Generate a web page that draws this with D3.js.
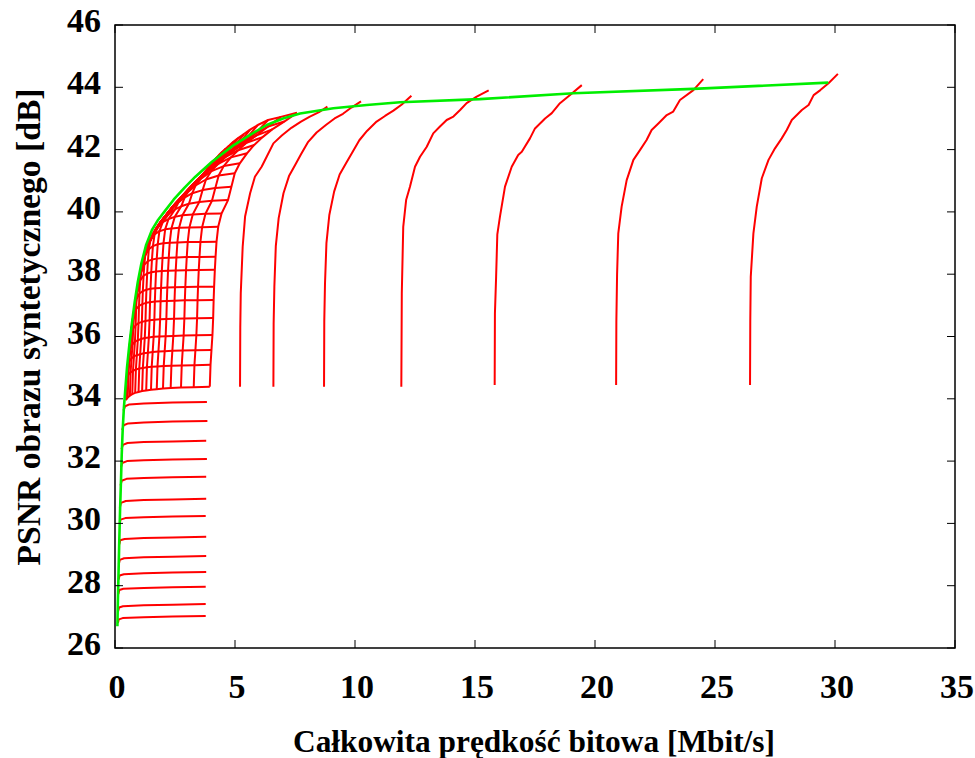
<!DOCTYPE html>
<html>
<head>
<meta charset="utf-8">
<script src="https://cdn.jsdelivr.net/npm/d3@7"></script>
<style>
  body { margin: 0; background: #fff; }
  svg { display: block; }
  text { font-family: "Liberation Serif", "Times New Roman", serif; font-weight: bold; fill: #000; }
</style>
</head>
<body>
<svg id="chart" width="975" height="758"></svg>
<script>
// Axis ticks
const xTicks = [0, 5, 10, 15, 20, 25, 30, 35];
const yTicks = [26, 28, 30, 32, 34, 36, 38, 40, 42, 44, 46];

// Upper envelope of all operating points [Mbit/s, dB]
const envelope = [
  [0.10, 26.7], [0.12, 27.5], [0.15, 28.5], [0.18, 29.5], [0.21, 30.4], [0.25, 31.4],
  [0.28, 32.2], [0.32, 33.0], [0.37, 33.7], [0.43, 34.3], [0.50, 35.0], [0.60, 35.75],
  [0.70, 36.4], [0.82, 37.1], [0.95, 37.75], [1.10, 38.35], [1.30, 38.95], [1.54, 39.42],
  [1.80, 39.75], [2.10, 40.05], [2.45, 40.4], [2.90, 40.78], [3.35, 41.13], [4.04, 41.61],
  [4.90, 42.12], [5.80, 42.55], [6.32, 42.79], [7.00, 43.0], [7.71, 43.16], [9.10, 43.33],
  [10.49, 43.43], [11.88, 43.52], [15.20, 43.62], [19.10, 43.81], [24.10, 43.95], [29.72, 44.15]
];

// Low-quality texture curves (depth rate swept)
const lowerCurves = [
  [[0.35, 33.62], [0.42, 33.76], [0.60, 33.82], [1.2, 33.85], [2.4, 33.88], [3.83, 33.90]],
  [[0.30, 33.00], [0.36, 33.15], [0.55, 33.21], [1.2, 33.24], [2.4, 33.27], [3.85, 33.29]],
  [[0.27, 32.38], [0.33, 32.52], [0.52, 32.58], [1.2, 32.61], [2.4, 32.63], [3.80, 32.65]],
  [[0.25, 31.80], [0.30, 31.94], [0.50, 32.00], [1.2, 32.03], [2.4, 32.05], [3.83, 32.07]],
  [[0.23, 31.22], [0.28, 31.37], [0.48, 31.43], [1.2, 31.46], [2.4, 31.48], [3.80, 31.50]],
  [[0.20, 30.50], [0.25, 30.66], [0.45, 30.72], [1.2, 30.75], [2.4, 30.77], [3.80, 30.79]],
  [[0.19, 29.98], [0.23, 30.12], [0.43, 30.17], [1.2, 30.20], [2.4, 30.22], [3.78, 30.24]],
  [[0.18, 29.33], [0.22, 29.46], [0.40, 29.50], [1.2, 29.53], [2.4, 29.55], [3.80, 29.57]],
  [[0.16, 28.70], [0.20, 28.83], [0.38, 28.88], [1.2, 28.91], [2.4, 28.93], [3.80, 28.95]],
  [[0.15, 28.20], [0.19, 28.33], [0.37, 28.37], [1.2, 28.40], [2.4, 28.42], [3.80, 28.44]],
  [[0.14, 27.73], [0.18, 27.86], [0.35, 27.90], [1.2, 27.93], [2.4, 27.95], [3.78, 27.97]],
  [[0.13, 27.18], [0.17, 27.30], [0.33, 27.34], [1.2, 27.37], [2.4, 27.39], [3.78, 27.41]],
  [[0.12, 26.80], [0.16, 26.92], [0.32, 26.96], [1.2, 26.99], [2.4, 27.01], [3.78, 27.03]]
];

// Dense grid: texture rate per column, depth rate per row, PSNR per row/column
const gridTexture = [0.45, 0.53, 0.62, 0.72, 0.84, 0.98, 1.13, 1.30, 1.50, 1.74, 2.00, 2.32, 2.75, 3.28, 3.95];
const gridDepth = [0, 0.03, 0.07, 0.11, 0.14, 0.16, 0.18, 0.21, 0.24, 0.28, 0.35, 0.49, 0.76, 0.90, 1.04, 1.25, 1.55, 1.85, 2.20, 2.60, 3.10, 3.63];
const gridPsnr = [
  [33.96, 34.04, 34.10, 34.15, 34.19, 34.22, 34.25, 34.27, 34.29, 34.31, 34.33, 34.35, 34.36, 34.37, 34.39],
  [34.50, 34.78, 34.85, 34.90, 34.94, 34.97, 34.99, 35.01, 35.03, 35.04, 35.05, 35.06, 35.07, 35.08, 35.09],
  [34.90, 35.20, 35.30, 35.36, 35.40, 35.43, 35.46, 35.48, 35.50, 35.52, 35.53, 35.54, 35.55, 35.56, 35.57],
  [35.25, 35.60, 35.75, 35.83, 35.88, 35.92, 35.95, 35.97, 35.99, 36.00, 36.01, 36.02, 36.03, 36.04, 36.05],
  [35.50, 35.95, 36.25, 36.36, 36.43, 36.47, 36.50, 36.52, 36.54, 36.55, 36.56, 36.57, 36.58, 36.585, 36.59],
  [35.70, 36.15, 36.60, 36.88, 36.98, 37.04, 37.08, 37.10, 37.12, 37.13, 37.14, 37.15, 37.16, 37.165, 37.17],
  [35.85, 36.30, 36.80, 37.20, 37.38, 37.46, 37.50, 37.53, 37.55, 37.56, 37.57, 37.58, 37.59, 37.595, 37.60],
  [36.05, 36.50, 36.98, 37.45, 37.80, 37.95, 38.02, 38.06, 38.09, 38.10, 38.11, 38.12, 38.13, 38.135, 38.14],
  [36.25, 36.65, 37.15, 37.62, 38.05, 38.30, 38.42, 38.47, 38.50, 38.52, 38.53, 38.54, 38.55, 38.555, 38.56],
  [36.50, 36.90, 37.35, 37.80, 38.20, 38.60, 38.80, 38.90, 38.96, 38.99, 39.01, 39.02, 39.03, 39.035, 39.04],
  [36.85, 37.25, 37.70, 38.10, 38.50, 38.85, 39.10, 39.28, 39.38, 39.44, 39.47, 39.49, 39.50, 39.51, 39.52],
  [37.50, 37.90, 38.25, 38.55, 38.85, 39.10, 39.33, 39.52, 39.67, 39.77, 39.84, 39.89, 39.92, 39.94, 39.95],
  [38.50, 38.75, 38.95, 39.12, 39.30, 39.48, 39.65, 39.80, 39.95, 40.08, 40.18, 40.26, 40.32, 40.36, 40.38],
  [38.85, 39.02, 39.18, 39.35, 39.50, 39.66, 39.80, 39.96, 40.12, 40.30, 40.46, 40.60, 40.70, 40.77, 40.81],
  [39.10, 39.25, 39.38, 39.52, 39.66, 39.80, 39.94, 40.10, 40.26, 40.45, 40.64, 40.85, 41.04, 41.17, 41.24],
  [39.40, 39.52, 39.63, 39.74, 39.86, 40.00, 40.14, 40.28, 40.45, 40.64, 40.84, 41.06, 41.30, 41.47, 41.56],
  [39.75, 39.84, 39.94, 40.04, 40.16, 40.28, 40.40, 40.54, 40.72, 40.90, 41.10, 41.30, 41.54, 41.75, 41.88],
  [40.05, 40.13, 40.22, 40.31, 40.42, 40.54, 40.66, 40.80, 40.96, 41.13, 41.32, 41.52, 41.76, 41.98, 42.15],
  [40.35, 40.43, 40.51, 40.60, 40.70, 40.82, 40.94, 41.07, 41.21, 41.38, 41.55, 41.73, 41.98, 42.22, 42.40],
  [40.70, 40.77, 40.85, 40.93, 41.02, 41.12, 41.23, 41.36, 41.48, 41.63, 41.78, 41.97, 42.20, 42.45, 42.65],
  [41.10, 41.17, 41.24, 41.32, 41.41, 41.51, 41.60, 41.70, 41.82, 41.97, 42.12, 42.30, 42.52, 42.74, 42.90],
  [41.60, 41.68, 41.76, 41.84, 41.93, 42.03, 42.13, 42.25, 42.37, 42.50, 42.64, 42.79, 42.95, 43.05, 43.18]
];

// High-rate texture curves (depth rate swept)
const sparseCurves = [
  [[5.21, 34.39], [5.22, 36.3], [5.24, 37.39], [5.32, 38.88], [5.42, 39.85], [5.63, 40.6], [5.83, 41.13], [6.11, 41.45], [6.32, 41.77], [6.60, 42.2], [6.95, 42.45], [7.35, 42.7], [7.75, 42.9], [8.10, 43.05], [8.50, 43.2], [8.85, 43.38]],
  [[6.60, 34.39], [6.61, 36.4], [6.64, 37.6], [6.70, 38.9], [6.82, 39.8], [7.02, 40.6], [7.25, 41.15], [7.50, 41.5], [7.75, 41.85], [8.05, 42.25], [8.40, 42.55], [8.80, 42.8], [9.15, 43.0], [9.50, 43.15], [9.85, 43.35], [10.25, 43.55]],
  [[8.71, 34.39], [8.72, 36.5], [8.75, 37.7], [8.81, 39.0], [8.93, 39.9], [9.13, 40.65], [9.36, 41.2], [9.62, 41.55], [9.88, 41.9], [10.18, 42.3], [10.50, 42.6], [10.90, 42.9], [11.25, 43.08], [11.60, 43.25], [11.95, 43.45], [12.35, 43.73]],
  [[11.93, 34.39], [11.95, 37.39], [12.01, 39.52], [12.13, 40.38], [12.29, 40.81], [12.50, 41.45], [12.71, 41.77], [12.99, 42.09], [13.26, 42.52], [13.54, 42.74], [13.82, 42.95], [14.10, 43.06], [14.38, 43.27], [14.65, 43.49], [15.07, 43.7], [15.57, 43.9]],
  [[15.82, 34.44], [15.83, 36.74], [15.88, 37.92], [15.93, 39.28], [16.04, 39.85], [16.25, 40.81], [16.53, 41.45], [16.80, 41.83], [16.95, 41.93], [17.29, 42.36], [17.50, 42.68], [17.92, 43.0], [18.20, 43.17], [18.54, 43.49], [18.96, 43.75], [19.45, 44.07]],
  [[20.88, 34.44], [20.89, 36.5], [20.92, 38.0], [20.97, 39.31], [21.11, 40.17], [21.32, 41.02], [21.60, 41.67], [21.88, 41.99], [22.15, 42.31], [22.36, 42.63], [22.64, 42.84], [22.99, 43.11], [23.26, 43.22], [23.54, 43.59], [24.10, 43.91], [24.51, 44.26]],
  [[26.46, 34.44], [26.47, 36.5], [26.49, 37.92], [26.60, 39.31], [26.74, 40.17], [26.95, 41.08], [27.23, 41.67], [27.50, 42.04], [27.78, 42.36], [27.99, 42.63], [28.20, 42.95], [28.62, 43.27], [28.90, 43.43], [29.11, 43.75], [29.39, 43.91], [29.73, 44.13], [30.12, 44.43]]
];

const svg = d3.select("#chart");
const W = 975, H = 758;
const plot = { left: 115, right: 955, top: 25, bottom: 648 };

svg.append("rect").attr("width", W).attr("height", H).attr("fill", "#fff");

const x = d3.scaleLinear().domain([0, 35]).range([plot.left, plot.right]);
const y = d3.scaleLinear().domain([26, 46]).range([plot.bottom, plot.top]);

svg.append("defs").append("clipPath").attr("id", "plotClip")
  .append("rect")
  .attr("x", plot.left).attr("y", plot.top)
  .attr("width", plot.right - plot.left).attr("height", plot.bottom - plot.top);

const line = d3.line().x(d => x(d[0])).y(d => y(d[1]));
const marks = svg.append("g").attr("clip-path", "url(#plotClip)");

const red = "#ff0000";
const redWidth = 2;

function drawRed(data) {
  marks.append("path").datum(data)
    .attr("fill", "none").attr("stroke", red)
    .attr("stroke-width", redWidth).attr("stroke-linejoin", "round")
    .attr("d", line);
}

lowerCurves.forEach(drawRed);

// Grid columns: one texture rate, depth rate swept
gridTexture.forEach((t, i) => {
  drawRed(gridDepth.map((dr, j) => [t + dr, gridPsnr[j][i]]));
});
// Grid rows: one depth rate, texture rate swept
gridDepth.forEach((dr, j) => {
  drawRed(gridTexture.map((t, i) => [t + dr, gridPsnr[j][i]]));
});

sparseCurves.forEach(drawRed);

marks.append("path").datum(envelope)
  .attr("fill", "none").attr("stroke", "#00ee00")
  .attr("stroke-width", 2.6).attr("stroke-linejoin", "round")
  .attr("d", line);

// Frame with mirrored inward ticks
const axes = svg.append("g");
axes.append("rect")
  .attr("x", plot.left).attr("y", plot.top)
  .attr("width", plot.right - plot.left).attr("height", plot.bottom - plot.top)
  .attr("fill", "none").attr("stroke", "#000").attr("stroke-width", 1.5);

const tickLen = 8;
xTicks.forEach(v => {
  axes.append("line").attr("x1", x(v)).attr("x2", x(v))
    .attr("y1", plot.bottom).attr("y2", plot.bottom - tickLen)
    .attr("stroke", "#000").attr("stroke-width", 1);
  axes.append("line").attr("x1", x(v)).attr("x2", x(v))
    .attr("y1", plot.top).attr("y2", plot.top + tickLen)
    .attr("stroke", "#000").attr("stroke-width", 1);
});
yTicks.forEach(v => {
  axes.append("line").attr("x1", plot.left).attr("x2", plot.left + tickLen)
    .attr("y1", y(v)).attr("y2", y(v))
    .attr("stroke", "#000").attr("stroke-width", 1);
  axes.append("line").attr("x1", plot.right).attr("x2", plot.right - tickLen)
    .attr("y1", y(v)).attr("y2", y(v))
    .attr("stroke", "#000").attr("stroke-width", 1);
});

// Tick labels
const fs = 34;
axes.selectAll(".xl").data(xTicks).join("text")
  .attr("x", d => x(d) + 2).attr("y", 698)
  .attr("text-anchor", "middle").attr("font-size", fs)
  .text(d => d);
axes.selectAll(".yl").data(yTicks).join("text")
  .attr("x", 101).attr("y", d => y(d) + 7)
  .attr("text-anchor", "end").attr("font-size", fs)
  .text(d => d);

// Axis titles
svg.append("text")
  .attr("x", 534).attr("y", 752)
  .attr("text-anchor", "middle").attr("font-size", 32)
  .attr("textLength", 482).attr("lengthAdjust", "spacingAndGlyphs")
  .text("Całkowita prędkość bitowa [Mbit/s]");

svg.append("text")
  .attr("transform", "translate(40,327) rotate(-90)")
  .attr("text-anchor", "middle").attr("font-size", 33)
  .attr("textLength", 477).attr("lengthAdjust", "spacingAndGlyphs")
  .text("PSNR obrazu syntetycznego [dB]");
</script>
</body>
</html>
